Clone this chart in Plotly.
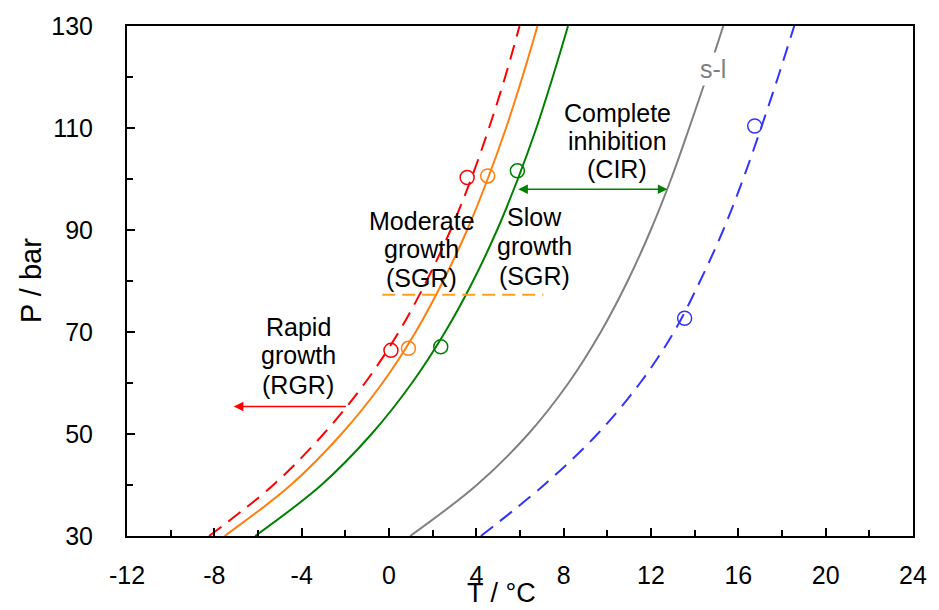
import plotly.graph_objects as go

# Pressure levels (bar) at which each boundary temperature was read
P_levels = [30, 40, 50, 60, 70, 80, 90, 100, 110, 120, 130]
T_red = [-8.24, -5.30, -3.00, -1.10, 0.45, 1.72, 2.82, 3.76, 4.58, 5.32, 5.98]
T_orange = [-7.53, -4.50, -2.18, -0.30, 1.22, 2.48, 3.58, 4.52, 5.36, 6.11, 6.80]
T_green = [-6.13, -3.10, -0.80, 1.05, 2.57, 3.85, 4.95, 5.90, 6.75, 7.50, 8.20]
T_gray = [0.97, 4.02, 6.38, 8.22, 9.70, 10.93, 11.99, 12.92, 13.75, 14.55, 15.31]
T_blue = [4.21, 7.10, 9.55, 11.50, 13.05, 14.25, 15.31, 16.22, 17.04, 17.82, 18.56]

# Experimental points (T, P)
red_pts_T = [0.09, 3.58]
red_pts_P = [66.4, 100.3]
orange_pts_T = [0.89, 4.52]
orange_pts_P = [66.8, 100.6]
green_pts_T = [2.37, 5.88]
green_pts_P = [67.1, 101.6]
blue_pts_T = [13.54, 16.75]
blue_pts_P = [72.7, 110.4]

# Horizontal orange dashed segment
hline_T = [-0.31, 7.07]
hline_P = [77.3, 77.3]

# Arrows
red_arrow_T = [-1.90, -7.11]
red_arrow_P = 55.4
green_arrow_T = [5.92, 12.82]
green_arrow_P = 98.0

# Tick labels
x_ticks = [-12, -8, -4, 0, 4, 8, 12, 16, 20, 24]
x_ticktext = ["-12", "-8", "-4", "0", "4", "8", "12", "16", "20", "24"]
y_ticks = [30, 50, 70, 90, 110, 130]
y_ticktext = ["30", "50", "70", "90", "110", "130"]

# Region labels: (lines, center T, P of each line)
region_labels = [
    (["Rapid", "growth", "(RGR)"], -4.16, [71.0, 65.4, 59.6]),
    (["Moderate", "growth", "(SGR)"], 1.50, [91.8, 86.2, 80.6]),
    (["Slow", "growth", "(SGR)"], 6.66, [92.5, 86.8, 81.0]),
    (["Complete", "inhibition", "(CIR)"], 10.46, [113.0, 107.5, 102.0]),
]
sl_label = ("s-l", 14.83, 121.5)

RED = "#FF0000"
ORANGE = "#FF7F0E"
ORANGE_L = "#FF9F1A"
GREEN = "#008000"
GRAY = "#808080"
BLUE = "#3333FF"
FONT = "Liberation Sans, Arial, sans-serif"

fig = go.Figure()

def curve(T, color, dash=None):
    fig.add_trace(go.Scatter(x=T, y=P_levels, mode="lines",
                             line=dict(color=color, width=2, dash=dash, shape="spline", smoothing=1.0),
                             showlegend=False, hoverinfo="skip"))

curve(T_gray, GRAY)
curve(T_blue, BLUE, "15px,9px")
curve(T_green, GREEN)
curve(T_orange, ORANGE)
curve(T_red, RED, "15px,9px")

fig.add_trace(go.Scatter(x=hline_T, y=hline_P, mode="lines",
                         line=dict(color=ORANGE_L, width=1.8, dash="13px,7px"),
                         showlegend=False, hoverinfo="skip"))

def pts(T, P, color):
    fig.add_trace(go.Scatter(x=T, y=P, mode="markers",
                             marker=dict(symbol="circle-open", size=14, color=color,
                                         line=dict(width=1.5, color=color)),
                             showlegend=False, hoverinfo="skip"))

pts(red_pts_T, red_pts_P, RED)
pts(orange_pts_T, orange_pts_P, ORANGE)
pts(green_pts_T, green_pts_P, GREEN)
pts(blue_pts_T, blue_pts_P, BLUE)

# Arrows
fig.add_annotation(x=red_arrow_T[1], y=red_arrow_P, ax=red_arrow_T[0], ay=red_arrow_P,
                   xref="x", yref="y", axref="x", ayref="y", text="", showarrow=True,
                   arrowhead=2, arrowsize=1.2, arrowwidth=1.6, arrowcolor=RED)
fig.add_annotation(x=green_arrow_T[0], y=green_arrow_P, ax=green_arrow_T[1], ay=green_arrow_P,
                   xref="x", yref="y", axref="x", ayref="y", text="", showarrow=True,
                   arrowhead=2, startarrowhead=2, arrowside="end+start",
                   arrowsize=1.2, startarrowsize=1.2, arrowwidth=1.6, arrowcolor=GREEN)

for lines, x, ys in region_labels:
    for txt, y in zip(lines, ys):
        fig.add_annotation(x=x, y=y, xref="x", yref="y", text=txt, showarrow=False,
                           font=dict(family=FONT, size=25, color="black"),
                           xanchor="center", yanchor="middle")

fig.add_annotation(x=sl_label[1], y=sl_label[2], xref="x", yref="y", text=sl_label[0],
                   showarrow=False, font=dict(family=FONT, size=25, color=GRAY),
                   bgcolor="white", borderpad=2, xanchor="center", yanchor="middle")

# Axis titles
fig.add_annotation(x=0.476, y=-0.112, xref="paper", yref="paper", text="T / °C",
                   showarrow=False, font=dict(family=FONT, size=27, color="black"),
                   yanchor="middle", xanchor="center")
fig.add_annotation(x=-0.122, y=0.5, xref="paper", yref="paper", text="P / bar",
                   showarrow=False, textangle=-90, font=dict(family=FONT, size=29, color="black"),
                   yanchor="middle", xanchor="center")

axis_common = dict(showgrid=False, zeroline=False, showline=True, linewidth=2,
                   linecolor="black", mirror=True, ticks="inside", ticklen=8,
                   tickwidth=2, tickcolor="black", tickmode="array",
                   tickfont=dict(family=FONT, size=25, color="black"))

fig.update_xaxes(range=[-12, 24], tickvals=x_ticks, ticktext=x_ticktext, ticklabelstandoff=16,
                 minor=dict(tick0=-12, dtick=2, ticks="inside", ticklen=6, tickwidth=1.5, tickcolor="black"),
                 **axis_common)
fig.update_yaxes(range=[30, 130], tickvals=y_ticks, ticktext=y_ticktext, ticklabelstandoff=27,
                 minor=dict(tick0=30, dtick=10, ticks="inside", ticklen=6, tickwidth=1.5, tickcolor="black"),
                 **axis_common)

fig.update_layout(width=939, height=610, margin=dict(l=127, r=17, t=25, b=74),
                  plot_bgcolor="white", paper_bgcolor="white",
                  font=dict(family=FONT))

fig.write_html("out.html")
